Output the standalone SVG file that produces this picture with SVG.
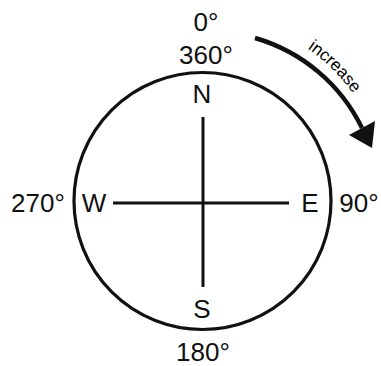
<svg xmlns="http://www.w3.org/2000/svg" width="381" height="366" viewBox="0 0 381 366">
<style>
.lbl{font-family:"Liberation Sans",Arial,sans-serif;font-size:26px;fill:#111;text-anchor:middle}
.ln{stroke:#111;fill:none}
</style>
<defs>
<path id="tp" d="M 290.5 38.2 A 184 184 0 0 1 372 127"/>
</defs>
<rect width="381" height="366" fill="#fff"/>
<g id="dial">
<circle cx="202.5" cy="201" r="128.5" class="ln" stroke-width="3.2"/>
</g>
<g id="connectors">
<line x1="203" y1="117" x2="203" y2="287" class="ln" stroke-width="3"/>
<line x1="113" y1="203" x2="289" y2="203" class="ln" stroke-width="3"/>
<path d="M 255 38 A 172 172 0 0 1 362 128" class="ln" stroke-width="4.5"/>
<polygon points="349,135 375,121 372,148" fill="#111"/>
</g>
<g id="north"><text class="lbl" x="202" y="103">N</text></g>
<g id="south"><text class="lbl" x="202" y="318">S</text></g>
<g id="west"><text class="lbl" x="94" y="212">W</text></g>
<g id="east"><text class="lbl" x="310" y="212">E</text></g>
<g id="deg0"><text class="lbl" x="206" y="31">0°</text></g>
<g id="deg360"><text class="lbl" x="206" y="64">360°</text></g>
<g id="deg90"><text class="lbl" x="359" y="212">90°</text></g>
<g id="deg180"><text class="lbl" x="203" y="361">180°</text></g>
<g id="deg270"><text class="lbl" x="38" y="212">270°</text></g>
<g id="increase"><text font-family="'Liberation Sans',Arial,sans-serif" font-size="17" fill="#000"><textPath href="#tp" startOffset="20">increase</textPath></text></g>
</svg>
